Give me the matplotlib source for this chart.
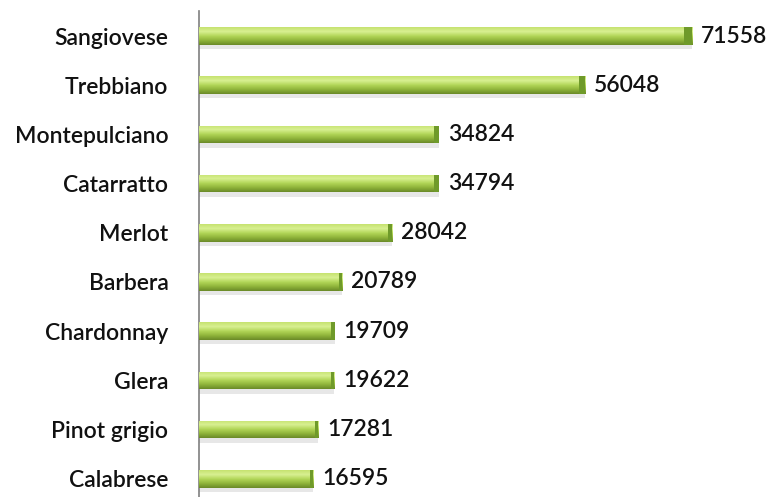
import numpy as np
import matplotlib.pyplot as plt
from matplotlib.colors import LinearSegmentedColormap

# Top grape varieties planted in Italy (hectares)
varieties = ["Sangiovese", "Trebbiano", "Montepulciano", "Catarratto", "Merlot",
             "Barbera", "Chardonnay", "Glera", "Pinot grigio", "Calabrese"]
hectares = [71558, 56048, 34824, 34794, 28042, 20789, 19709, 19622, 17281, 16595]

plt.rcParams['font.family'] = ['Lato', 'DejaVu Sans']

fig = plt.figure(figsize=(7.75, 4.97), dpi=100)
ax = fig.add_axes([199 / 775, 0, 1 - 199 / 775, 1 - 11.4 / 497])

ypos = np.arange(len(varieties))
bar_h = 0.36

# green cylinder shading, light on top, dark underneath
green = LinearSegmentedColormap.from_list(
    "green", ["#6a8a28", "#8fb43a", "#b2d658", "#d8f092", "#c6e270"])
grad = np.linspace(0, 1, 64).reshape(-1, 1)

bars = ax.barh(ypos, hectares, height=bar_h, color="#a9cf50", zorder=2)
for b, v, y in zip(bars, hectares, ypos):
    # soft shadow under the bar
    ax.barh(y + bar_h * 0.62, v, height=bar_h * 0.25, color="#bbbbbb",
            alpha=0.35, zorder=1)
    im = ax.imshow(grad, cmap=green, aspect="auto", origin="lower",
                   extent=(0, v, y + bar_h / 2, y - bar_h / 2), zorder=3)
    im.set_clip_path(b)
    # darker bevelled end cap
    ax.barh(y, v * 0.012 + 250, left=v - (v * 0.012 + 250), height=bar_h,
            color="#6f9a2a", zorder=4)
    ax.text(v + 1300, y, str(v), va="center", ha="left", fontsize=16.5,
            fontweight="semibold", color="#111111")

ax.set_yticks(ypos)
ax.set_yticklabels(varieties, fontsize=16.5, fontweight="semibold",
                   color="#111111")
ax.tick_params(axis="y", length=0, pad=22)
ax.set_xticks([])
ax.set_xlim(0, 83600)
ax.set_ylim((497 - 36) / 49.2, -0.5)

for side in ["top", "right", "bottom"]:
    ax.spines[side].set_visible(False)
ax.spines["left"].set_color("#7f7f7f")
ax.spines["left"].set_linewidth(1.2)

fig.savefig("out.png", dpi=100)
